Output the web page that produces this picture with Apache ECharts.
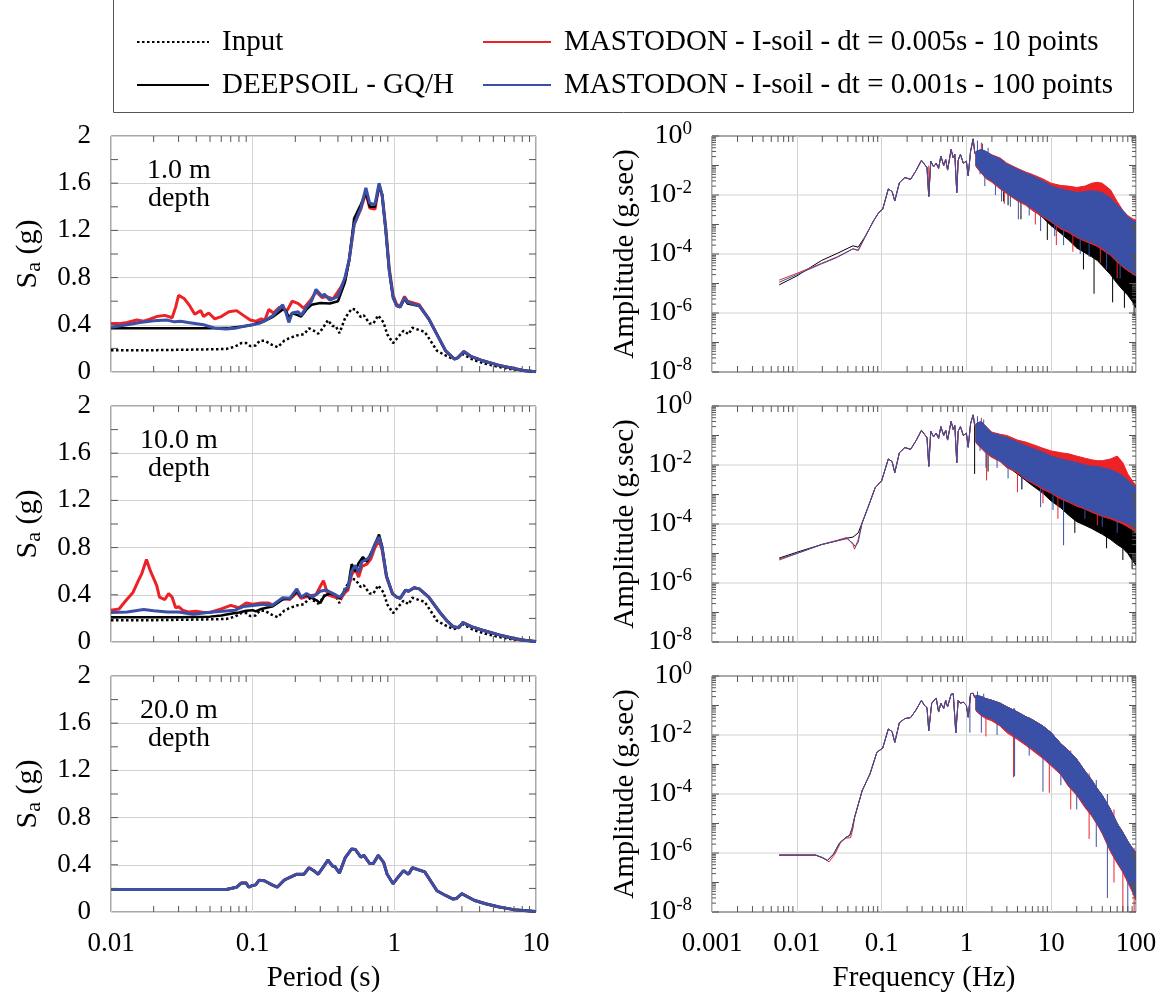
<!DOCTYPE html>
<html>
<head>
<meta charset="utf-8">
<title>Sa and Fourier amplitude at three depths</title>
<script src="https://cdn.jsdelivr.net/npm/echarts@6/dist/echarts.min.js"></script>
<style>
  html, body { margin: 0; padding: 0; background: #fff; }
  #chart { width: 1164px; height: 997px; }
</style>
</head>
<body>
<div id="chart"></div>
<script>
var FONT = 'Liberation Serif';
var RED = '#ec2227', BLUE = '#3a50a6', BLACK = '#000000';
var NAME_INPUT = 'Input';
var NAME_DEEP = 'DEEPSOIL - GQ/H';
var NAME_M10 = 'MASTODON - I-soil - dt = 0.005s - 10 points';
var NAME_M100 = 'MASTODON - I-soil - dt = 0.001s - 100 points';

var depthLabels = ['1.0 m', '10.0 m', '20.0 m'];
var periodDecades = [0.01, 0.1, 1];
var freqDecades = [0.001, 0.01, 0.1, 1, 10];
var ampDecades = [1e-8, 1e-7, 1e-6, 1e-5, 1e-4, 1e-3, 1e-2, 1e-1, 1];
var ampGridLines = [1e-2, 1e-4, 1e-6];
var minorMult = [2, 3, 4, 5, 6, 7, 8, 9];
var saTicks = [0.2, 0.4, 0.6, 0.8, 1.0, 1.2, 1.4, 1.6, 1.8];

// ---- response spectra [period (s), Sa (g)] ----
var inputSa = [[0.01,0.185],[0.02,0.185],[0.04,0.19],[0.065,0.195],[0.075,0.215],[0.083,0.245],[0.09,0.245],[0.096,0.22],[0.105,0.225],[0.112,0.265],[0.122,0.265],[0.137,0.23],[0.15,0.21],[0.167,0.265],[0.18,0.285],[0.205,0.31],[0.23,0.32],[0.25,0.37],[0.27,0.35],[0.29,0.325],[0.31,0.365],[0.34,0.44],[0.365,0.39],[0.385,0.39],[0.41,0.33],[0.45,0.46],[0.5,0.535],[0.53,0.53],[0.58,0.465],[0.61,0.48],[0.67,0.41],[0.71,0.41],[0.77,0.48],[0.84,0.42],[0.89,0.32],[0.98,0.245],[1.07,0.3],[1.16,0.35],[1.26,0.32],[1.34,0.375],[1.64,0.34],[2.0,0.18],[2.3,0.14],[2.6,0.11],[2.75,0.115],[3.0,0.155],[3.65,0.1],[4.4,0.07],[5.5,0.042],[7,0.02],[10,0.005]];

var red1 = [[0.01,0.41],[0.0114,0.41],[0.013,0.42],[0.0152,0.44],[0.017,0.43],[0.019,0.45],[0.021,0.47],[0.024,0.48],[0.027,0.46],[0.0286,0.55],[0.03,0.65],[0.033,0.62],[0.036,0.56],[0.039,0.49],[0.043,0.52],[0.045,0.47],[0.049,0.50],[0.054,0.45],[0.06,0.47],[0.068,0.51],[0.077,0.52],[0.086,0.48],[0.096,0.44],[0.105,0.43],[0.115,0.45],[0.122,0.44],[0.13,0.53],[0.14,0.50],[0.155,0.55],[0.175,0.52],[0.19,0.60],[0.21,0.58],[0.23,0.54],[0.26,0.62],[0.28,0.68],[0.31,0.63],[0.33,0.64],[0.37,0.62],[0.42,0.72],[0.448,0.78],[0.48,0.95],[0.52,1.25],[0.58,1.38],[0.63,1.52],[0.67,1.39],[0.73,1.38],[0.78,1.58],[0.82,1.50],[0.87,1.22],[0.92,0.88],[0.98,0.65],[1.04,0.57],[1.1,0.56],[1.18,0.64],[1.24,0.60],[1.5,0.57],[1.75,0.45],[2.1,0.27],[2.3,0.18],[2.65,0.11],[2.8,0.12],[3.1,0.175],[3.5,0.13],[4.1,0.1],[5.5,0.056],[7,0.03],[8.3,0.01],[10,0.003]];
var black1 = [[0.01,0.37],[0.03,0.37],[0.05,0.37],[0.07,0.375],[0.085,0.385],[0.1,0.40],[0.12,0.43],[0.14,0.47],[0.163,0.53],[0.172,0.52],[0.18,0.46],[0.19,0.50],[0.21,0.48],[0.22,0.47],[0.24,0.53],[0.26,0.57],[0.3,0.585],[0.35,0.58],[0.4,0.60],[0.448,0.76],[0.48,0.95],[0.52,1.30],[0.58,1.42],[0.63,1.52],[0.67,1.40],[0.73,1.40],[0.78,1.58],[0.82,1.50],[0.87,1.2],[0.92,0.86],[0.98,0.63],[1.04,0.56],[1.1,0.55],[1.18,0.62],[1.24,0.58],[1.5,0.56],[1.75,0.45],[2.1,0.27],[2.3,0.18],[2.65,0.11],[2.8,0.12],[3.1,0.17],[3.5,0.13],[4.1,0.1],[5.5,0.056],[7,0.03],[8.3,0.01],[10,0.003]];
var blue1 = [[0.01,0.38],[0.013,0.40],[0.016,0.42],[0.02,0.435],[0.025,0.44],[0.028,0.425],[0.031,0.43],[0.035,0.42],[0.045,0.40],[0.055,0.37],[0.065,0.365],[0.075,0.37],[0.085,0.385],[0.1,0.40],[0.11,0.41],[0.12,0.43],[0.14,0.48],[0.163,0.57],[0.172,0.50],[0.18,0.42],[0.19,0.50],[0.21,0.51],[0.22,0.48],[0.24,0.55],[0.26,0.60],[0.28,0.70],[0.31,0.64],[0.32,0.66],[0.35,0.61],[0.4,0.64],[0.448,0.80],[0.48,0.95],[0.52,1.25],[0.58,1.39],[0.63,1.56],[0.67,1.43],[0.73,1.42],[0.78,1.60],[0.82,1.50],[0.87,1.20],[0.92,0.86],[0.98,0.63],[1.04,0.56],[1.1,0.55],[1.18,0.63],[1.24,0.59],[1.5,0.56],[1.75,0.45],[2.1,0.27],[2.3,0.18],[2.65,0.11],[2.8,0.12],[3.1,0.175],[3.5,0.13],[4.1,0.10],[5.5,0.056],[7,0.03],[8.3,0.01],[10,0.003]];

var red2 = [[0.01,0.27],[0.0114,0.28],[0.0127,0.35],[0.0143,0.42],[0.0156,0.52],[0.0165,0.58],[0.0178,0.70],[0.019,0.60],[0.021,0.48],[0.022,0.38],[0.024,0.36],[0.0255,0.41],[0.027,0.38],[0.0286,0.29],[0.03,0.30],[0.032,0.27],[0.035,0.255],[0.04,0.26],[0.045,0.25],[0.05,0.25],[0.06,0.28],[0.07,0.31],[0.08,0.29],[0.09,0.33],[0.1,0.32],[0.115,0.33],[0.13,0.33],[0.14,0.31],[0.163,0.37],[0.183,0.36],[0.205,0.42],[0.22,0.37],[0.25,0.39],[0.28,0.40],[0.3,0.47],[0.316,0.52],[0.34,0.40],[0.38,0.38],[0.42,0.37],[0.45,0.42],[0.47,0.44],[0.5,0.57],[0.53,0.62],[0.56,0.55],[0.59,0.64],[0.64,0.66],[0.68,0.70],[0.73,0.80],[0.78,0.86],[0.82,0.78],[0.88,0.55],[0.97,0.41],[1.04,0.38],[1.1,0.37],[1.2,0.44],[1.26,0.43],[1.38,0.46],[1.5,0.45],[1.75,0.38],[2.1,0.25],[2.35,0.18],[2.6,0.13],[2.85,0.12],[3.05,0.165],[3.5,0.13],[4.2,0.1],[5.5,0.06],[7,0.03],[8.5,0.012],[10,0.004]];
var black2 = [[0.01,0.21],[0.03,0.21],[0.05,0.215],[0.06,0.225],[0.07,0.24],[0.08,0.25],[0.09,0.265],[0.1,0.27],[0.105,0.26],[0.115,0.28],[0.125,0.29],[0.137,0.30],[0.163,0.36],[0.183,0.37],[0.205,0.43],[0.22,0.38],[0.24,0.40],[0.265,0.37],[0.285,0.35],[0.3,0.33],[0.32,0.39],[0.35,0.41],[0.38,0.40],[0.41,0.37],[0.45,0.44],[0.47,0.46],[0.5,0.66],[0.53,0.60],[0.56,0.67],[0.6,0.72],[0.64,0.68],[0.7,0.78],[0.78,0.91],[0.82,0.81],[0.88,0.56],[0.97,0.41],[1.04,0.38],[1.1,0.37],[1.2,0.44],[1.26,0.43],[1.38,0.46],[1.5,0.45],[1.75,0.38],[2.1,0.25],[2.35,0.18],[2.6,0.13],[2.85,0.12],[3.05,0.165],[3.5,0.13],[4.2,0.1],[5.5,0.06],[7,0.03],[8.5,0.012],[10,0.004]];
var blue2 = [[0.01,0.25],[0.013,0.255],[0.017,0.275],[0.02,0.265],[0.025,0.255],[0.03,0.255],[0.038,0.235],[0.048,0.25],[0.061,0.26],[0.075,0.27],[0.086,0.30],[0.1,0.31],[0.12,0.32],[0.137,0.31],[0.163,0.375],[0.183,0.37],[0.205,0.45],[0.22,0.38],[0.24,0.41],[0.265,0.38],[0.3,0.43],[0.33,0.44],[0.37,0.41],[0.41,0.38],[0.43,0.40],[0.45,0.45],[0.47,0.46],[0.5,0.60],[0.53,0.65],[0.56,0.59],[0.59,0.68],[0.64,0.70],[0.68,0.73],[0.73,0.83],[0.78,0.89],[0.82,0.80],[0.88,0.56],[0.97,0.41],[1.04,0.38],[1.1,0.37],[1.2,0.44],[1.26,0.43],[1.38,0.46],[1.5,0.45],[1.75,0.38],[2.1,0.25],[2.35,0.18],[2.6,0.13],[2.85,0.12],[3.05,0.165],[3.5,0.13],[4.2,0.1],[5.5,0.06],[7,0.03],[8.5,0.012],[10,0.004]];

var sa20 = [[0.01,0.19],[0.03,0.19],[0.065,0.19],[0.077,0.21],[0.083,0.245],[0.09,0.245],[0.094,0.21],[0.1,0.225],[0.105,0.23],[0.111,0.27],[0.121,0.265],[0.137,0.23],[0.149,0.21],[0.167,0.27],[0.18,0.29],[0.205,0.32],[0.23,0.32],[0.25,0.375],[0.27,0.35],[0.29,0.32],[0.31,0.37],[0.34,0.44],[0.365,0.39],[0.38,0.385],[0.41,0.33],[0.45,0.46],[0.5,0.535],[0.53,0.53],[0.58,0.465],[0.61,0.48],[0.67,0.41],[0.71,0.41],[0.77,0.48],[0.84,0.42],[0.89,0.32],[0.98,0.24],[1.07,0.30],[1.16,0.35],[1.26,0.32],[1.34,0.375],[1.64,0.34],[2.0,0.18],[2.3,0.14],[2.6,0.11],[2.75,0.115],[3.0,0.155],[3.65,0.10],[4.4,0.07],[5.5,0.042],[7,0.02],[10,0.005]];

// ---- Fourier amplitude, smooth part [frequency (Hz), amplitude (g.sec)] ----
var fftLowBlack1 = [[0.0062,9e-6],[0.01,1.8e-5],[0.0195,6e-5],[0.03,1.05e-4],[0.046,1.9e-4],[0.053,1.7e-4]];
var fftLowRed1 = [[0.0062,1.3e-5],[0.01,2.2e-5],[0.0195,4.8e-5],[0.03,8e-5],[0.046,1.5e-4],[0.053,1.3e-4]];
var fftLowBlue1 = [[0.0062,1.1e-5],[0.01,2e-5],[0.0195,4.6e-5],[0.03,7.7e-5],[0.046,1.5e-4],[0.053,1.35e-4]];
var fftMid1 = [[0.065,4.2e-4],[0.08,1.3e-3],[0.093,2.6e-3],[0.103,3.3e-3],[0.12,1.6e-2],[0.133,1.3e-2],[0.143,6.3e-3],[0.162,2.6e-2],[0.188,3.9e-2],[0.22,3.4e-2],[0.254,6.6e-2],[0.295,0.15],[0.32,0.11],[0.343,0.085],[0.36,9e-3],[0.38,0.14],[0.41,0.09],[0.44,0.12],[0.47,0.08],[0.5,0.21],[0.54,0.1],[0.57,0.16],[0.6,0.07],[0.66,0.35],[0.7,0.18],[0.73,0.24],[0.77,0.012],[0.8,0.15],[0.85,0.24],[0.92,0.12],[1.0,0.14],[1.05,0.045],[1.12,0.3],[1.2,0.8],[1.26,0.25]];

var fftLowBlack2 = [[0.0062,7e-6],[0.01,1.1e-5],[0.0195,2e-5],[0.03,2.7e-5],[0.039,3.3e-5],[0.046,3.6e-5],[0.053,5e-5]];
var fftLowRed2 = [[0.0062,6e-6],[0.01,1e-5],[0.0195,2e-5],[0.03,2.8e-5],[0.039,3.5e-5],[0.046,2e-5],[0.048,1.4e-5],[0.053,3e-5]];
var fftLowBlue2 = [[0.0062,6.5e-6],[0.01,1e-5],[0.0195,2e-5],[0.03,2.7e-5],[0.039,3.2e-5],[0.046,2.2e-5],[0.049,1.7e-5],[0.053,2.4e-5]];
var fftMid2 = [[0.059,1.1e-4],[0.069,3.6e-4],[0.084,1.7e-3],[0.1,2.9e-3],[0.12,1.6e-2],[0.133,1.3e-2],[0.143,5.5e-3],[0.162,2.6e-2],[0.188,3.9e-2],[0.22,3.4e-2],[0.254,6.6e-2],[0.295,0.15],[0.32,0.11],[0.343,0.085],[0.36,9e-3],[0.38,0.14],[0.41,0.09],[0.44,0.12],[0.47,0.08],[0.5,0.2],[0.54,0.1],[0.57,0.15],[0.6,0.07],[0.66,0.3],[0.7,0.16],[0.73,0.22],[0.77,0.012],[0.8,0.14],[0.85,0.2],[0.92,0.1],[1.0,0.12],[1.05,0.04],[1.12,0.25],[1.2,0.5],[1.26,0.2]];

var fftLow3 = [[0.0062,8.5e-7],[0.0167,8.5e-7],[0.02,7e-7],[0.023,5.6e-7],[0.027,9e-7],[0.032,2.2e-6],[0.038,3.4e-6],[0.042,3.9e-6],[0.045,7e-6]];
var fftLowRed3 = [[0.0062,8.5e-7],[0.0167,8.5e-7],[0.021,6.5e-7],[0.024,5e-7],[0.028,9e-7],[0.033,2.3e-6],[0.038,3.2e-6],[0.043,3.3e-6],[0.046,7e-6]];
var fftMid3 = [[0.048,1.6e-5],[0.059,1.3e-4],[0.073,4.8e-4],[0.088,2.6e-3],[0.103,3.6e-3],[0.12,1.6e-2],[0.133,1.3e-2],[0.143,5.6e-3],[0.162,2.6e-2],[0.188,3.6e-2],[0.22,3.9e-2],[0.254,7e-2],[0.295,0.15],[0.32,0.1],[0.343,0.085],[0.36,1.4e-2],[0.39,0.12],[0.44,0.18],[0.47,0.06],[0.5,0.12],[0.54,0.08],[0.57,0.15],[0.6,0.09],[0.66,0.24],[0.7,0.25],[0.75,0.012],[0.8,0.15],[0.85,0.12],[0.92,0.13],[1.0,0.1],[1.05,0.04],[1.12,0.25],[1.2,0.26],[1.26,0.18]];

// ---- Fourier amplitude, dense part: envelopes at bandFreq ----
var bandFreq = [1.3,1.5,1.7,2,2.5,3,4,5,6,8,10,13,16,20,25,30,35,40,50,60,70,80,90,100];
var blackTop1 = [0.25,0.3,0.25,0.18,0.14,0.09,0.06,0.045,0.035,0.022,0.015,0.011,0.009,0.008,0.008,0.008,0.007,0.006,0.004,0.0025,0.0015,0.001,8e-4,6e-4];
var blackBot1 = [0.1,0.06,0.04,0.03,0.018,0.012,0.007,0.005,0.0033,0.0017,9e-4,5e-4,3e-4,1.6e-4,1.1e-4,8e-5,6e-5,4e-5,2e-5,1e-5,6e-6,4e-6,2.5e-6,1.5e-6];
var redTop1 = [0.3,0.35,0.3,0.23,0.18,0.12,0.08,0.06,0.05,0.035,0.025,0.021,0.02,0.018,0.02,0.025,0.027,0.025,0.015,0.006,0.003,0.002,0.0016,0.0014];
var redBot1 = [0.09,0.055,0.036,0.027,0.016,0.011,0.0063,0.0045,0.003,0.0018,0.0012,7e-4,5.4e-4,3.6e-4,2.7e-4,2.2e-4,1.8e-4,1.4e-4,9e-5,5.4e-5,3.6e-5,2.7e-5,2.2e-5,1.8e-5];
var blueTop1 = [0.3,0.35,0.3,0.22,0.17,0.11,0.075,0.055,0.045,0.03,0.02,0.016,0.014,0.012,0.013,0.014,0.013,0.012,0.008,0.0045,0.003,0.0018,0.0014,0.0012];
var blueBot1 = [0.1,0.06,0.04,0.03,0.018,0.012,0.007,0.005,0.0035,0.002,0.0013,8e-4,6e-4,4e-4,3e-4,2.5e-4,2e-4,1.6e-4,1e-4,6e-5,4e-5,3e-5,2.5e-5,2e-5];

var blackTop2 = [0.2,0.25,0.17,0.1,0.08,0.065,0.045,0.035,0.028,0.02,0.015,0.012,0.01,0.008,0.007,0.006,0.006,0.005,0.0045,0.0035,0.0025,0.0018,0.0014,0.001];
var blackBot2 = [0.06,0.04,0.028,0.02,0.014,0.009,0.005,0.003,0.002,0.0011,6e-4,3.5e-4,2e-4,1.2e-4,9e-5,7e-5,5.5e-5,4.5e-5,3e-5,2e-5,1.5e-5,1e-5,6e-6,4e-6];
var redTop2 = [0.25,0.3,0.2,0.13,0.11,0.1,0.07,0.06,0.05,0.037,0.03,0.026,0.024,0.02,0.017,0.015,0.014,0.014,0.016,0.02,0.012,0.005,0.003,0.002];
var redBot2 = [0.055,0.036,0.025,0.018,0.013,0.008,0.0055,0.0032,0.0024,0.0015,0.0011,7e-4,5.5e-4,4e-4,3.2e-4,2.5e-4,2.1e-4,1.8e-4,1.5e-4,1.2e-4,1e-4,8e-5,6.5e-5,5e-5];
var blueTop2 = [0.25,0.3,0.2,0.12,0.1,0.085,0.06,0.045,0.037,0.027,0.02,0.016,0.014,0.012,0.01,0.009,0.009,0.008,0.007,0.0055,0.0042,0.003,0.0022,0.0017];
var blueBot2 = [0.06,0.04,0.028,0.02,0.014,0.009,0.006,0.0035,0.0026,0.0017,0.0012,8e-4,6e-4,4.5e-4,3.5e-4,2.8e-4,2.3e-4,2e-4,1.7e-4,1.4e-4,1.2e-4,1e-4,8e-5,7e-5];

var blueTop3 = [0.22,0.2,0.17,0.15,0.12,0.09,0.06,0.042,0.033,0.02,0.012,0.005,0.003,0.0015,6e-4,3e-4,1.5e-4,9e-5,3e-5,1e-5,5e-6,2.5e-6,1.5e-6,1e-6];
var blueBot3 = [0.07,0.05,0.04,0.035,0.022,0.014,0.008,0.005,0.0035,0.0018,0.001,5e-4,2e-4,1e-4,4e-5,2e-5,1e-5,5e-6,1.3e-6,5e-7,2.5e-7,1.2e-7,6e-8,3e-8];
var redBot3 = [0.065,0.045,0.036,0.03,0.02,0.012,0.007,0.0045,0.003,0.0016,9e-4,4.5e-4,1.8e-4,9e-5,3.5e-5,1.8e-5,9e-6,4.5e-6,1.1e-6,4.5e-7,2.2e-7,1e-7,5e-8,2.5e-8];

// isolated peaks and drops [frequency, from, to]
var spikeBlack1 = [[2.75,0.1,6e-3],[3.1,0.1,4.5e-3],[4.4,0.05,1.5e-3],[9,0.02,3e-4],[24,0.008,3e-5],[32,0.008,4.5e-6],[53,0.004,2.3e-6],[73,0.002,1.5e-6],[95,0.001,8e-7]];
var spikeRed1 = [[0.36,0.1,9e-3],[1.5,0.3,0.6],[2.8,0.12,5e-3],[6.5,0.04,1e-3],[11.5,0.02,2e-4],[18,0.018,1.2e-4],[38,0.02,5e-5],[60,0.005,1.5e-5]];
var spikeBlue1 = [[1.35,0.25,0.7],[1.45,0.3,0.05],[1.55,0.3,0.55],[1.65,0.25,0.02],[1.8,0.2,0.4],[2.2,0.15,0.01],[2.6,0.15,0.006],[3.3,0.1,0.004],[4.1,0.06,0.0015],[5.5,0.05,0.002],[7.5,0.03,6e-4],[11,0.018,4e-4],[14,0.015,2e-4],[22,0.012,1e-4],[28,0.013,8e-5],[45,0.01,3e-5],[65,0.004,1.5e-5]];
var spikeBlack2 = [[1.25,0.3,5e-3],[1.8,0.15,6e-3],[4.5,0.04,1.5e-3],[19,0.01,5e-5],[45,0.005,1.5e-5],[70,0.003,6e-6],[90,0.002,3e-6]];
var spikeRed2 = [[1.5,0.25,0.4],[1.73,0.2,3e-3],[4,0.06,1.2e-3],[8,0.035,5e-4],[12,0.028,1.5e-4],[35,0.014,9e-5]];
var spikeBlue2 = [[1.35,0.25,0.45],[1.45,0.25,0.03],[1.6,0.25,0.35],[1.7,0.2,0.008],[2.3,0.12,0.008],[3.1,0.08,0.0035],[4.5,0.05,0.0015],[7.5,0.03,3.7e-4],[10.5,0.02,3e-4],[14,0.015,1.9e-5],[25,0.01,1.5e-4],[40,0.008,8e-5],[60,0.005,5e-5]];
var spikeRed3 = [[1.7,0.15,0.009],[3.6,0.08,3.7e-4],[9.5,0.012,1.1e-4],[17,0.003,3e-5],[28,5e-4,3e-6],[55,3e-5,1e-7],[70,5e-6,1e-8],[95,1.5e-6,1e-8]];
var spikeBlue3 = [[1.1,0.2,0.012],[1.35,0.2,0.3],[1.5,0.2,0.012],[1.6,0.17,0.25],[2.3,0.12,0.01],[3.7,0.08,4e-4],[5.5,0.04,2e-3],[8,0.02,1.2e-4],[13,0.005,2e-4],[20,0.0015,3e-5],[34,3e-4,1.6e-6],[46,1e-4,3e-8],[80,2.5e-6,5e-9]];

// ---- layout ----
var panelTop = [136, 406, 676];
var panelH = 236, leftX = 111, rightX = 712, panelW = 425;

var chart = echarts.init(document.getElementById('chart'), null, { renderer: 'canvas' });

function num(v) { return String(parseFloat(v.toPrecision(6))); }
function expand(decades) {
  var out = [];
  decades.forEach(function (d) { minorMult.forEach(function (m) { out.push(d * m); }); });
  return out;
}

function lineSeries(name, g, data, color, width, dash) {
  return {
    name: name, type: 'line', xAxisIndex: g, yAxisIndex: g, data: data,
    showSymbol: false, symbol: 'none', silent: true, animation: false,
    lineStyle: { color: color, width: width, type: dash || 'solid', cap: 'butt' },
    itemStyle: { color: color }
  };
}

function bandSeries(g, top, bot, color) {
  return {
    type: 'custom', name: 'band', xAxisIndex: g, yAxisIndex: g, clip: true, silent: true, animation: false,
    data: [[bandFreq[0], top[0]]],
    renderItem: function (params, api) {
      var pts = [];
      for (var i = 0; i < bandFreq.length; i++) pts.push(api.coord([bandFreq[i], top[i]]));
      for (var j = bandFreq.length - 1; j >= 0; j--) pts.push(api.coord([bandFreq[j], bot[j]]));
      return { type: 'polygon', shape: { points: pts }, style: { fill: color, stroke: color, lineWidth: 1 } };
    }
  };
}

function spikeSeries(g, spikes, color) {
  return {
    type: 'custom', name: 'spike', xAxisIndex: g, yAxisIndex: g, clip: true, silent: true, animation: false,
    data: spikes, encode: { x: 0, y: [1, 2] },
    renderItem: function (params, api) {
      var a = api.coord([api.value(0), api.value(1)]);
      var b = api.coord([api.value(0), api.value(2)]);
      return { type: 'line', shape: { x1: a[0], y1: a[1], x2: b[0], y2: b[1] }, style: { stroke: color, lineWidth: 1 } };
    }
  };
}

// small inward ticks on all four sides of a panel
function tickSeries(g, xr, yr, xMinor, yMajor, yMinor) {
  return {
    type: 'custom', name: 'ticks', xAxisIndex: g, yAxisIndex: g, silent: true, animation: false, z: 10,
    data: [[xr[0], yr[0]]],
    renderItem: function (params, api) {
      var lb = api.coord([xr[0], yr[0]]), rt = api.coord([xr[1], yr[1]]);
      var kids = [];
      function seg(x1, y1, x2, y2) {
        kids.push({ type: 'line', shape: { x1: x1, y1: y1, x2: x2, y2: y2 }, style: { stroke: '#555', lineWidth: 1 } });
      }
      xMinor.forEach(function (v) {
        var x = api.coord([v, yr[0]])[0];
        seg(x, lb[1], x, lb[1] - 6); seg(x, rt[1], x, rt[1] + 6);
      });
      yMajor.forEach(function (v) {
        var y = api.coord([xr[0], v])[1];
        seg(lb[0], y, lb[0] + 7, y); seg(rt[0], y, rt[0] - 7, y);
      });
      yMinor.forEach(function (v) {
        var y = api.coord([xr[0], v])[1];
        seg(lb[0], y, lb[0] + 4, y); seg(rt[0], y, rt[0] - 4, y);
      });
      return { type: 'group', children: kids };
    }
  };
}

function hGridSeries(g, xr, values) {
  return {
    type: 'custom', name: 'hgrid', xAxisIndex: g, yAxisIndex: g, silent: true, animation: false, z: 1,
    data: [[xr[0], values[0]]],
    renderItem: function (params, api) {
      var kids = values.map(function (v) {
        var a = api.coord([xr[0], v]), b = api.coord([xr[1], v]);
        return { type: 'line', shape: { x1: a[0], y1: a[1], x2: b[0], y2: b[1] }, style: { stroke: '#d2d2d2', lineWidth: 1 } };
      });
      return { type: 'group', children: kids };
    }
  };
}

var grids = [], xAxes = [], yAxes = [], series = [], graphics = [];
var tickFont = { fontFamily: FONT, fontSize: 27, color: '#000' };

for (var i = 0; i < 3; i++) {
  grids.push({ left: leftX, top: panelTop[i], width: panelW, height: panelH, show: true, borderColor: '#555', borderWidth: 1 });
}
for (var k = 0; k < 3; k++) {
  grids.push({ left: rightX, top: panelTop[k], width: panelW - 1, height: panelH, show: true, borderColor: '#555', borderWidth: 1 });
}

for (var a = 0; a < 6; a++) {
  var isLeft = a < 3, isBottom = (a % 3) === 2;
  xAxes.push({
    type: 'log', logBase: 10, gridIndex: a,
    min: isLeft ? 0.01 : 0.001, max: isLeft ? 10 : 100,
    axisLine: { show: false }, axisTick: { show: false },
    splitLine: { show: true, lineStyle: { color: '#d2d2d2', width: 1 } },
    axisLabel: Object.assign({ show: isBottom, margin: 18, formatter: num }, tickFont),
    name: isBottom ? (isLeft ? 'Period (s)' : 'Frequency (Hz)') : '',
    nameLocation: 'middle', nameGap: 52,
    nameTextStyle: { fontFamily: FONT, fontSize: 29, color: '#000' }
  });
  if (isLeft) {
    yAxes.push({
      type: 'value', gridIndex: a, min: 0, max: 2, interval: 0.4,
      axisLine: { show: false }, axisTick: { show: false },
      splitLine: { show: true, lineStyle: { color: '#d2d2d2', width: 1 } },
      axisLabel: Object.assign({ margin: 20, formatter: num }, tickFont),
      name: '{m|S}{s|a}{m| (g)}', nameLocation: 'middle', nameRotate: 90, nameGap: 66,
      nameTextStyle: {
        fontFamily: FONT, fontSize: 30, color: '#000',
        rich: {
          m: { fontFamily: FONT, fontSize: 30, color: '#000' },
          s: { fontFamily: FONT, fontSize: 22, color: '#000', padding: [12, 0, 0, 0] }
        }
      }
    });
  } else {
    yAxes.push({
      type: 'log', logBase: 10, gridIndex: a, min: 1e-8, max: 1,
      axisLine: { show: false }, axisTick: { show: false }, splitLine: { show: false },
      axisLabel: {
        margin: 20,
        formatter: function (v) {
          var e = Math.round(Math.log(v) / Math.LN10);
          return (e % 2 === 0) ? '{b|10}{p|' + e + '}' : '';
        },
        rich: {
          b: { fontFamily: FONT, fontSize: 28, color: '#000' },
          p: { fontFamily: FONT, fontSize: 19, color: '#000', padding: [0, 0, 14, 0] }
        }
      },
      name: 'Amplitude (g.sec)', nameLocation: 'middle', nameRotate: 90, nameGap: 72,
      nameTextStyle: { fontFamily: FONT, fontSize: 29, color: '#000' }
    });
  }
}

// left column: response spectra
var spectra = [
  { red: red1, black: black1, blue: blue1, input: inputSa },
  { red: red2, black: black2, blue: blue2, input: inputSa },
  { red: sa20, black: sa20, blue: sa20, input: null }
];
spectra.forEach(function (s, g) {
  if (s.input) series.push(lineSeries(NAME_INPUT, g, s.input, BLACK, 2.5, [2.5, 2.5]));
  series.push(lineSeries(NAME_M10, g, s.red, RED, 3));
  series.push(lineSeries(NAME_DEEP, g, s.black, BLACK, 2.5));
  series.push(lineSeries(NAME_M100, g, s.blue, BLUE, 3));
  series.push(tickSeries(g, [0.01, 10], [0, 2], expand(periodDecades), saTicks, []));
});

// right column: Fourier amplitude spectra
var ffts = [
  { low: [fftLowBlack1, fftLowRed1, fftLowBlue1], mid: fftMid1,
    band: [[blackTop1, blackBot1], [redTop1, redBot1], [blueTop1, blueBot1]],
    spikes: [spikeBlack1, spikeRed1, spikeBlue1] },
  { low: [fftLowBlack2, fftLowRed2, fftLowBlue2], mid: fftMid2,
    band: [[blackTop2, blackBot2], [redTop2, redBot2], [blueTop2, blueBot2]],
    spikes: [spikeBlack2, spikeRed2, spikeBlue2] },
  { low: [fftLow3, fftLowRed3, fftLow3], mid: fftMid3,
    band: [[blueTop3, blueBot3], [blueTop3, redBot3], [blueTop3, blueBot3]],
    spikes: [[], spikeRed3, spikeBlue3] }
];
var fftColors = [BLACK, RED, BLUE], fftNames = [NAME_DEEP, NAME_M10, NAME_M100];
ffts.forEach(function (f, j) {
  var g = j + 3;
  series.push(hGridSeries(g, [0.001, 100], ampGridLines));
  for (var c = 0; c < 3; c++) {
    series.push(lineSeries(fftNames[c], g, f.low[c].concat(f.mid), fftColors[c], 1));
    series.push(bandSeries(g, f.band[c][0], f.band[c][1], fftColors[c]));
    series.push(spikeSeries(g, f.spikes[c], fftColors[c]));
  }
  var yMinor = [];
  ampDecades.slice(0, -1).forEach(function (d) { minorMult.forEach(function (m) { yMinor.push(d * m); }); });
  series.push(tickSeries(g, [0.001, 100], [1e-8, 1], expand(freqDecades), ampDecades, yMinor));
});

// depth captions
depthLabels.forEach(function (t, i) {
  [t, 'depth'].forEach(function (line, r) {
    graphics.push({
      type: 'text', x: 179, y: panelTop[i] + 35 + r * 28, silent: true,
      style: { text: line, fontFamily: FONT, fontSize: 28, fill: '#000', align: 'center', verticalAlign: 'middle' }
    });
  });
});
// legend frame
graphics.push({
  type: 'rect', silent: true, z: -1,
  shape: { x: 113.5, y: -5, width: 1020, height: 117.5 },
  style: { fill: 'none', stroke: '#555', lineWidth: 1 }
});

var legendText = { fontFamily: FONT, fontSize: 29, color: '#000', lineHeight: 30 };
var option = {
  backgroundColor: '#ffffff',
  animation: false,
  grid: grids,
  xAxis: xAxes,
  yAxis: yAxes,
  legend: [
    { data: [NAME_INPUT, NAME_DEEP], orient: 'vertical', left: 131, top: 22, itemWidth: 72, itemHeight: 14, itemGap: 13,
      selectedMode: false, itemStyle: { opacity: 0 }, textStyle: Object.assign({ padding: [0, 0, 0, 8] }, legendText) },
    { data: [NAME_M10, NAME_M100], orient: 'vertical', left: 477, top: 22, itemWidth: 68, itemHeight: 14, itemGap: 13,
      selectedMode: false, itemStyle: { opacity: 0 }, textStyle: Object.assign({ padding: [0, 0, 0, 8] }, legendText) }
  ],
  graphic: graphics,
  series: series
};
chart.setOption(option);
</script>
</body>
</html>
